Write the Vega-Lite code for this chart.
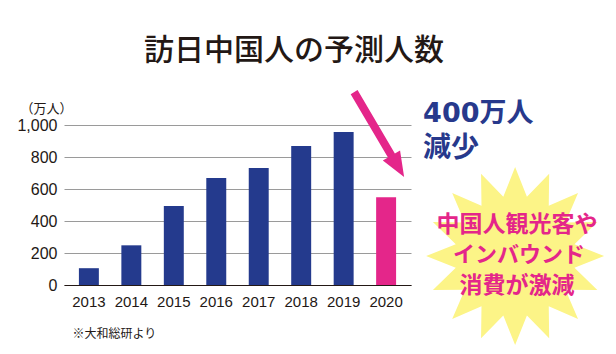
{
  "$schema": "https://vega.github.io/schema/vega-lite/v6.json",
  "width": 347,
  "height": 160,
  "autosize": {"type": "none"},
  "padding": {"left": 64, "top": 125, "right": 205, "bottom": 69},
  "background": "white",
  "config": {
    "view": {"stroke": null},
    "font": "Noto Sans CJK JP"
  },
  "title": {
    "text": "訪日中国人の予測人数",
    "anchor": "start",
    "frame": "group",
    "dx": 80,
    "dy": 4,
    "fontSize": 30,
    "fontWeight": 500,
    "font": "Noto Sans CJK JP",
    "color": "#231815",
    "baseline": "alphabetic",
    "offset": 4
  },
  "resolve": {"axis": {"x": "independent", "y": "independent"}},
  "layer": [
    {
      "data": {
        "values": [
          {"year": "2013", "visitors": 105, "kind": "実績"},
          {"year": "2014", "visitors": 248, "kind": "実績"},
          {"year": "2015", "visitors": 493, "kind": "実績"},
          {"year": "2016", "visitors": 668, "kind": "実績"},
          {"year": "2017", "visitors": 731, "kind": "実績"},
          {"year": "2018", "visitors": 868, "kind": "実績"},
          {"year": "2019", "visitors": 956, "kind": "実績"},
          {"year": "2020", "visitors": 549, "kind": "予測"}
        ]
      },
      "mark": {"type": "bar"},
      "encoding": {
        "x": {
          "field": "year",
          "type": "ordinal",
          "scale": {"paddingInner": 0.53, "paddingOuter": 0.351},
          "axis": {
            "title": "※大和総研より",
            "titleX": 8,
            "titleY": 52,
            "titleAlign": "left",
            "titleAnchor": "start",
            "titleBaseline": "alphabetic",
            "titleFont": "Noto Sans CJK JP",
            "titleFontSize": 12,
            "titleFontWeight": "normal",
            "titleColor": "#231815",
            "labelAngle": 0,
            "labelFont": "Liberation Sans",
            "labelFontSize": 15,
            "labelColor": "#231815",
            "labelPadding": 9,
            "ticks": false,
            "domainColor": "#231815",
            "domainWidth": 1.2
          }
        },
        "y": {
          "field": "visitors",
          "type": "quantitative",
          "scale": {"domain": [0, 1000], "nice": false},
          "axis": {
            "values": [0, 200, 400, 600, 800, 1000],
            "format": ",d",
            "labelOverlap": false,
            "title": "（万人）",
            "titleAngle": 0,
            "titleX": -44,
            "titleY": -13,
            "titleAlign": "left",
            "titleBaseline": "alphabetic",
            "titleFont": "Noto Sans CJK JP",
            "titleFontSize": 13,
            "titleFontWeight": "normal",
            "titleColor": "#231815",
            "labelFont": "Liberation Sans",
            "labelFontSize": 16,
            "labelColor": "#231815",
            "labelPadding": 7,
            "ticks": false,
            "domain": false,
            "grid": true,
            "gridColor": "#9a9a9a",
            "gridWidth": 1
          }
        },
        "color": {
          "field": "kind",
          "type": "nominal",
          "scale": {"domain": ["実績", "予測"], "range": ["#243a8d", "#e4268a"]},
          "legend": null
        }
      }
    },
    {
      "data": {"values": [{"label": "arrow"}]},
      "mark": {
        "type": "point",
        "filled": true,
        "opacity": 1,
        "strokeWidth": 0,
        "color": "#e4268a",
        "size": 10000,
        "shape": "M -0.431 -0.891 L 0.315 0.378 L 0.419 0.318 L 0.5 0.85 L 0.074 0.52 L 0.177 0.46 L -0.569 -0.809 Z",
        "xOffset": -7
      },
      "encoding": {
        "x": {"datum": "2020", "type": "ordinal", "axis": null},
        "y": {"datum": 940, "type": "quantitative", "axis": null}
      }
    },
    {
      "data": {"values": [{"label": "star"}]},
      "mark": {
        "type": "point",
        "filled": true,
        "opacity": 1,
        "strokeWidth": 0,
        "color": "#fcf487",
        "size": 31684,
        "shape": "M 0 -1 L 0.1327 -0.6669 L 0.3827 -0.9239 L 0.3778 -0.5654 L 0.7071 -0.7071 L 0.5654 -0.3778 L 0.9239 -0.3827 L 0.6669 -0.1327 L 1 0 L 0.6669 0.1327 L 0.9239 0.3827 L 0.5654 0.3778 L 0.7071 0.7071 L 0.3778 0.5654 L 0.3827 0.9239 L 0.1327 0.6669 L 0 1 L -0.1327 0.6669 L -0.3827 0.9239 L -0.3778 0.5654 L -0.7071 0.7071 L -0.5654 0.3778 L -0.9239 0.3827 L -0.6669 0.1327 L -1 0 L -0.6669 -0.1327 L -0.9239 -0.3827 L -0.5654 -0.3778 L -0.7071 -0.7071 L -0.3778 -0.5654 L -0.3827 -0.9239 L -0.1327 -0.6669 Z",
        "xOffset": 129
      },
      "encoding": {
        "x": {"datum": "2020", "type": "ordinal", "axis": null},
        "y": {"datum": 181, "type": "quantitative", "axis": null}
      }
    },
    {
      "data": {"values": [{"label": "中国人観光客や"}]},
      "mark": {
        "type": "text",
        "font": "Noto Sans CJK JP",
        "fontWeight": "bold",
        "fontSize": 23,
        "color": "#e4268a",
        "align": "center",
        "baseline": "middle",
        "xOffset": 131
      },
      "encoding": {
        "x": {"datum": "2020", "type": "ordinal", "axis": null},
        "y": {"datum": 375, "type": "quantitative", "axis": null},
        "text": {"field": "label"}
      }
    },
    {
      "data": {"values": [{"label": "インバウンド"}]},
      "mark": {
        "type": "text",
        "font": "Noto Sans CJK JP",
        "fontWeight": "bold",
        "fontSize": 22,
        "color": "#e4268a",
        "align": "center",
        "baseline": "middle",
        "xOffset": 133
      },
      "encoding": {
        "x": {"datum": "2020", "type": "ordinal", "axis": null},
        "y": {"datum": 185, "type": "quantitative", "axis": null},
        "text": {"field": "label"}
      }
    },
    {
      "data": {"values": [{"label": "消費が激減"}]},
      "mark": {
        "type": "text",
        "font": "Noto Sans CJK JP",
        "fontWeight": "bold",
        "fontSize": 23,
        "color": "#e4268a",
        "align": "center",
        "baseline": "middle",
        "xOffset": 131
      },
      "encoding": {
        "x": {"datum": "2020", "type": "ordinal", "axis": null},
        "y": {"datum": -6, "type": "quantitative", "axis": null},
        "text": {"field": "label"}
      }
    },
    {
      "data": {"values": [{"label": "400万人"}]},
      "mark": {
        "type": "text",
        "font": "DejaVu Sans, Noto Sans CJK JP",
        "fontWeight": "bold",
        "fontSize": 27,
        "color": "#27398c",
        "align": "left",
        "baseline": "alphabetic",
        "xOffset": 37
      },
      "encoding": {
        "x": {"datum": "2020", "type": "ordinal", "axis": null},
        "y": {"datum": 1019, "type": "quantitative", "axis": null},
        "text": {"field": "label"}
      }
    },
    {
      "data": {"values": [{"label": "減少"}]},
      "mark": {
        "type": "text",
        "font": "Noto Sans CJK JP",
        "fontWeight": "bold",
        "fontSize": 28,
        "color": "#27398c",
        "align": "left",
        "baseline": "alphabetic",
        "xOffset": 37
      },
      "encoding": {
        "x": {"datum": "2020", "type": "ordinal", "axis": null},
        "y": {"datum": 800, "type": "quantitative", "axis": null},
        "text": {"field": "label"}
      }
    }
  ]
}
